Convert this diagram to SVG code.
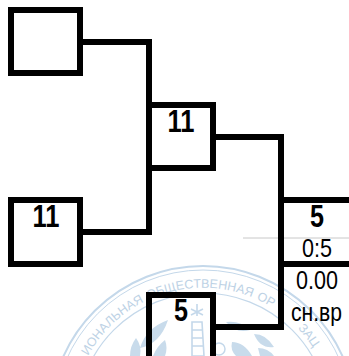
<svg xmlns="http://www.w3.org/2000/svg" width="349" height="356" viewBox="0 0 349 356">
<style>
.b{fill:none;stroke:#000;stroke-width:6}
.t{font-family:"Liberation Sans",Arial,sans-serif;text-anchor:middle;fill:#000}
.h{font-size:31px;font-weight:bold}
.n{font-size:25px}
.s{fill:none;stroke:#c4d8ea}
.l{fill:#c8dbeb}
.w{font-family:"Liberation Sans",sans-serif;font-size:12.5px;fill:#bdd2e5}
</style>
<defs><path id="arc" d="M88 356A131 131 0 0 1 318 356"/></defs>
<rect width="349" height="356" fill="#fff"/>
<g id="seal">
<circle class="s" cx="203" cy="419" r="153" stroke-width="2"/>
<circle class="s" cx="203" cy="419" r="149" stroke-width="1"/>
<circle class="s" cx="203" cy="419" r="126" stroke-width="1.2"/>
<text class="w"><textPath href="#arc">ИОНАЛЬНАЯ</textPath></text>
<text class="w"><textPath href="#arc" startOffset="84">ОБЩЕСТВЕННАЯ</textPath></text>
<text class="w"><textPath href="#arc" startOffset="195">ОР</textPath></text>
<text class="w"><textPath href="#arc" startOffset="246">ЗАЦ</textPath></text>
<path class="l" d="M168 320q-22 8-28 28q20-4 28-28zM136 338q-6 8-6 18h10q2-10-4-18zM165 340q-8 6-12 16h12q3-8 0-16zM226 322q14-2 24 8q-14 4-24-8zM254 334q12 0 20 13q-14 2-20-13zM232 342q12 0 20 14h-16q-6-6-4-14zM258 348q10 0 16 8h-14z"/>
<path class="s" d="M192 322h10l2 34h-12zM192 330h11M192 338h11M192 346h12M197 304v12M191 309l12 6M203 309l-12 6" stroke-width="1.600"/>
<circle class="s" cx="219" cy="349" r="6" stroke-width="1.500"/>
</g>
<g id="connectors">
<path class="b" d="M83 42H149V235M83 232H152"/>
<path class="b" d="M216 137H281V330M281 327H216"/>
<path d="M243 238H349" fill="none" stroke="#c8c8c8"/>
</g>
<g id="node-top"><rect class="b" x="11" y="10" width="69" height="63"/></g>
<g id="node-mid"><rect class="b" x="149" y="105" width="64" height="63"/><text class="t h" x="181" y="132" textLength="27" lengthAdjust="spacingAndGlyphs">11</text></g>
<g id="node-bottom"><rect class="b" x="11" y="200" width="69" height="64"/><text class="t h" x="46" y="227" textLength="27" lengthAdjust="spacingAndGlyphs">11</text></g>
<g id="node-right"><path class="b" d="M349 200H281V264H349"/><text class="t h" x="317" y="227" textLength="14" lengthAdjust="spacingAndGlyphs">5</text><text class="t n" x="317" y="257" textLength="30" lengthAdjust="spacingAndGlyphs">0:5</text></g>
<g id="node-low"><path class="b" d="M149 356V295H213V356"/><text class="t h" x="181" y="321" textLength="14" lengthAdjust="spacingAndGlyphs">5</text></g>
<g id="score"><text class="t n" x="317" y="289" textLength="42" lengthAdjust="spacingAndGlyphs">0.00</text><text class="t n" x="316.500" y="321" textLength="51" lengthAdjust="spacingAndGlyphs">сн.вр</text></g>
</svg>
